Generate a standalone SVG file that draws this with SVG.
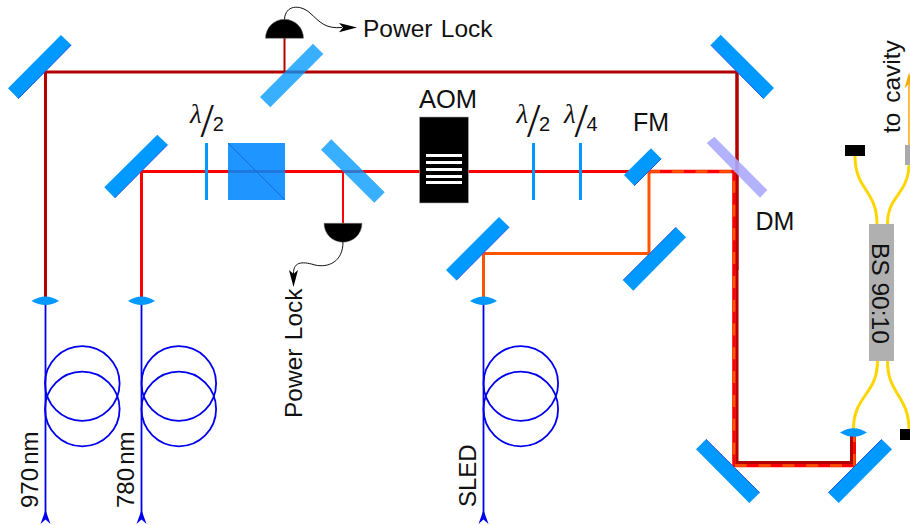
<svg xmlns="http://www.w3.org/2000/svg" width="910" height="525" viewBox="0 0 910 525">
<style>
text{font-family:"Liberation Sans",Arial,sans-serif;fill:#111;font-size:24.500px}
.lam{font-family:"Liberation Serif",serif;font-style:italic;font-size:27px}
.sl{font-family:"Liberation Serif",serif;font-size:48px;font-style:normal}
.num{font-family:"Liberation Sans",sans-serif;font-size:20px;font-style:normal}
.m{fill:#0099ff}
.e{fill:none;stroke:#2255ee;stroke-width:1}
.s{fill:#0099ff;fill-opacity:.78}
.wp{fill:#0099ff}
.l{fill:#0099ff}
.det{fill:#000;stroke:#777;stroke-width:.5}
.b{fill:none;stroke-linejoin:miter}
.dr{stroke:#b30000;stroke-width:3}
.r{stroke:#ff0000;stroke-width:3}
.o{stroke:#ff5500;stroke-width:3}
.fb{fill:none;stroke:#0000ee;stroke-width:1.800}
.y{fill:none;stroke:#ffd500;stroke-width:3}
.w{fill:none;stroke:#111;stroke-width:1}
</style>
<g id="connectors">
<path class="b dr" d="M45.500 301V72H737V270"/>
<path class="b dr" style="stroke-width:2" d="M284.500 72V38"/>
<path class="b r" d="M141.500 301V171.500H649"/>
<path class="b r" style="stroke-width:2" d="M343 171.500V223"/>
<path class="b o" d="M483.500 302V253.500H649V171.500"/>
<path class="b r" style="stroke-width:3.600" d="M649 171.500H734V465.500H854.200V432"/>
<path class="b dr" d="M737 72V462.500H851.500V432"/>
<path class="b o" stroke-dasharray="12 11.800" style="stroke-width:2.600" d="M648 171.500H734V465.500H854.200V432"/>
<path class="fb" d="M45.500 301V515M141.500 301V515M483.500 301V515"/>
<circle class="fb" cx="82.300" cy="383.500" r="37.300"/><circle class="fb" cx="82.300" cy="409" r="37.300"/>
<circle class="fb" cx="178.800" cy="383.500" r="37.300"/><circle class="fb" cx="178.800" cy="409" r="37.300"/>
<circle class="fb" cx="520.800" cy="383.500" r="37.300"/><circle class="fb" cx="520.800" cy="409" r="37.300"/>
<path fill="#0000ee" d="M45.500 510L50.500 524L45.500 519.500L40.500 524Z"/>
<path fill="#0000ee" d="M141.500 510L146.500 524L141.500 519.500L136.500 524Z"/>
<path fill="#0000ee" d="M483.500 510L488.500 524L483.500 519.500L478.500 524Z"/>
<path class="y" d="M853.500 429C853.500 395 877.500 395 877.500 361"/>
<path class="y" d="M887.500 361C887.500 395 909 395 909 430"/>
<path class="y" d="M855 156C855 190 877 190 877 224"/>
<path class="y" d="M887.500 224C887.500 195 908 195 909 165"/>
<path fill="none" stroke="#ffaa00" stroke-width="1.500" d="M909 146V80"/>
<path fill="#ffaa00" d="M909 72.500L913.500 88L909 84L904.500 88Z"/>
<path class="w" d="M284.500 19.500C285 5 300 4 310 13C320 22 325 29 342 27.500"/>
<path fill="#000" d="M357 27.500L339 23L343 27.500L339 32.300Z"/>
<path class="w" d="M343 242C343 262 328 268 315 265C305 262 293 260 293.500 274"/>
<path fill="#000" d="M293.500 287L289 270L293.500 274L298 270Z"/>
</g>
<g id="mirror-1"><polygon class="m" points="8,88.300 61,35 71.300,45 18.300,98.700"/><path class="e" d="M71.300 45L18.300 98.700"/></g>
<g id="mirror-2"><polygon class="m" points="104.300,187.300 157.300,134.700 167.700,144.700 114.700,198"/><path class="e" d="M167.700 144.700L114.700 198"/></g>
<g id="sampler-top"><polygon class="s" points="260,97 313,43.700 323.300,54 270.300,107.300"/></g>
<g id="sampler-mid"><polygon class="s" points="321,149.700 331.300,139.300 384.700,192.300 374.300,202.700"/></g>
<g id="mirror-sled-1"><polygon class="m" points="446,270 499,217 509.300,227 456.300,280.300"/><path class="e" d="M509.300 227L456.300 280.300"/></g>
<g id="mirror-sled-2"><polygon class="m" points="623,280.300 676,227.300 686,237.300 633.300,290.700"/><path class="e" d="M623 280.300L676 227.300"/></g>
<g id="fm"><polygon class="m" points="624,175 651,148.300 661.300,158.700 634.300,185.700"/><path class="e" d="M661.300 158.700L634.300 185.700"/><text x="633" y="130.500" style="font-size:25px">FM</text></g>
<g id="mirror-top-right"><polygon class="m" points="710.700,45 720.700,34.700 774,88 763.700,98.700"/><path class="e" d="M710.700 45L763.700 98.700"/></g>
<g id="dm"><polygon fill="#aaaaff" fill-opacity=".9" points="706.700,143 714.300,136.700 767.300,190 760,197.700"/><text x="755.500" y="230" style="font-size:25px">DM</text></g>
<g id="mirror-bottom-left"><polygon class="m" points="696,449.300 706,439.300 759.700,492.700 749.300,503"/><path class="e" d="M706 439.300L759.700 492.700"/></g>
<g id="mirror-bottom-right"><polygon class="m" points="828.300,492.700 881.700,439.300 892,449.300 838.700,503"/><path class="e" d="M828.300 492.700L881.700 439.300"/></g>
<g id="wp-1"><rect class="wp" x="205" y="143" width="3" height="57"/><text x="190" y="122.500" class="lam">λ<tspan class="sl" x="200.500" y="137">/</tspan><tspan class="num" x="212.700" y="130.500">2</tspan></text></g>
<g id="pbs"><rect fill="#0088ff" fill-opacity=".88" x="228" y="143" width="57" height="57"/><path stroke="#1166cc" stroke-width=".8" d="M228 143L285 200"/></g>
<g id="aom"><rect fill="#000" stroke="#aaa" stroke-width=".6" x="419.500" y="117" width="49" height="86"/>
<path stroke="#fff" stroke-width="3" d="M426 155.500H462M426 162.500H462M426 169.500H462M426 176.500H462M426 182.500H462"/><text x="419" y="107.500" style="font-size:25.500px">AOM</text></g>
<g id="wp-2"><rect class="wp" x="532" y="143" width="3" height="57"/><text x="516.500" y="122.500" class="lam">λ<tspan class="sl" x="527" y="137">/</tspan><tspan class="num" x="539" y="130.500">2</tspan></text></g>
<g id="wp-3"><rect class="wp" x="579" y="143" width="3" height="57"/><text x="564" y="122.500" class="lam">λ<tspan class="sl" x="574.500" y="137">/</tspan><tspan class="num" x="586.500" y="130.500">4</tspan></text></g>
<g id="det-top"><path class="det" d="M265.500 38.300A19 19 0 0 1 303.500 38.300Z"/><text x="363" y="36.500" word-spacing="1.500">Power Lock</text></g>
<g id="det-bottom"><path class="det" d="M324 223.300A19 19 0 0 0 362 223.300Z"/><text transform="translate(301.500 418) rotate(-90)" word-spacing="1.500">Power Lock</text></g>
<g id="lens-1"><path class="l" d="M31.500 301Q45.500 292 59 301Q45.500 309 31.500 301Z"/></g>
<g id="lens-2"><path class="l" d="M128 301Q141.500 292 155 301Q141.500 309 128 301Z"/></g>
<g id="lens-3"><path class="l" d="M470 301Q483.500 292 497 301Q483.500 309 470 301Z"/></g>
<g id="lens-4"><path class="l" d="M840 432.500Q853.500 424 867 432.500Q853.500 441 840 432.500Z"/></g>
<g id="bs"><rect fill="#b0b0b0" x="869" y="224" width="25" height="137"/><text transform="translate(872 243) rotate(90)">BS 90:10</text></g>
<g id="term-black-top"><rect fill="#000" x="845" y="145" width="20" height="11"/></g>
<g id="term-grey"><rect fill="#aaa" x="905" y="145" width="5" height="20"/></g>
<g id="term-black-bottom"><rect fill="#000" x="900" y="429" width="10" height="11"/></g>
<text id="label-cavity" transform="translate(900 133) rotate(-90)" word-spacing="3">to cavity</text>
<text id="label-970" transform="translate(38 508) rotate(-90)" word-spacing="-3.500" style="font-size:24px">970 nm</text>
<text id="label-780" transform="translate(134.300 508) rotate(-90)" word-spacing="-3.500" style="font-size:24px">780 nm</text>
<text id="label-sled" transform="translate(476 507) rotate(-90)" style="font-size:24px">SLED</text>
</svg>
